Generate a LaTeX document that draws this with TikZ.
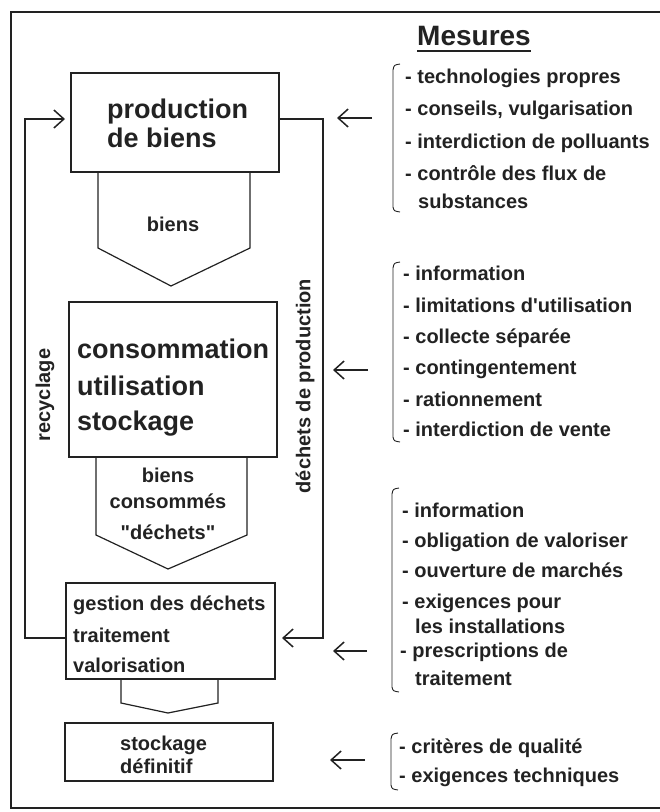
\documentclass[tikz,border=0pt]{standalone}
\usepackage{fontspec}
\setmainfont{Liberation Sans}[Ligatures=TeXOff]
\usetikzlibrary{arrows.meta}
\definecolor{ink}{RGB}{34,34,34}
\tikzset{
  x=1pt, y=-1pt,
  every node/.style={inner sep=0pt, text=ink},
  box/.style={draw=ink, line width=1.2pt, rectangle, inner sep=0pt},
  bigtxt/.style={anchor=base west, font=\fontsize{27}{27}\selectfont\bfseries},
  smalltxt/.style={anchor=base west, font=\fontsize{20}{20}\selectfont\bfseries},
  ctrtxt/.style={anchor=base, font=\fontsize{20}{20}\selectfont\bfseries},
  sidetxt/.style={rotate=90, font=\fontsize{20}{20}\selectfont\bfseries},
  flow/.style={draw=ink, line width=1.3pt},
  arr/.style={flow, -{Straight Barb[length=10pt,width=18pt,line width=1.5pt]}},
  brk/.style={draw=ink, line width=0.9pt},
  chevron/.style={draw=ink, line width=1.2pt, line join=miter},
}
\begin{document}
\begin{tikzpicture}
\useasboundingbox (0,0) rectangle (660,812);

% outer frame (open on the right)
\draw[draw=ink, line width=1.4pt] (660,12) -- (11,12) -- (11,808) -- (660,808);

% ---------- main chain ----------
\node[box, minimum width=208pt, minimum height=99pt] (prod) at (175,122.5) {};
\node[bigtxt] (prodA) at (107,118) {production};
\node[bigtxt] (prodB) at (107,147) {de biens};

\draw[chevron] (98,172) -- (98,248) -- (171,286) -- (250,248) -- (250,172);
\node[ctrtxt] (biensA) at (173,231) {biens};

\node[box, minimum width=208pt, minimum height=155pt] (cons) at (173,379.5) {};
\node[bigtxt] (consA) at (77,358) {consommation};
\node[bigtxt] (consB) at (77,395) {utilisation};
\node[bigtxt] (consC) at (77,430) {stockage};

\draw[chevron] (96,457) -- (96,535) -- (168,569) -- (247,535) -- (247,457);
\node[ctrtxt] (bcA) at (168,482) {biens};
\node[ctrtxt] (bcB) at (168,508) {consommés};
\node[ctrtxt] (bcC) at (168,539) {"déchets"};

\node[box, minimum width=209pt, minimum height=96pt] (gest) at (170.5,631) {};
\node[smalltxt] (gestA) at (73,610) {gestion des déchets};
\node[smalltxt] (gestB) at (73,642) {traitement};
\node[smalltxt] (gestC) at (73,672) {valorisation};

\draw[chevron] (121,679) -- (121,703) -- (168,713) -- (218,703) -- (218,679);

\node[box, minimum width=208pt, minimum height=58pt] (stock) at (169,752) {};
\node[smalltxt] (stockA) at (120,750) {stockage};
\node[smalltxt] (stockB) at (120,773) {définitif};

% ---------- recycling loop ----------
\coordinate (recy) at (25,638);
\coordinate (prodin) at (65,119);
\draw[arr] (gest.west |- recy) -- (recy) -- (recy |- prodin) -- (prodin);
\node[sidetxt] (recyT) at (45,395) {recyclage};

% ---------- production waste ----------
\coordinate (dp) at (323,119);
\coordinate (gestin) at (282,638);
\draw[arr] (prod.east |- dp) -- (dp) -- (dp |- gestin) -- (gestin);
\node[sidetxt] (dpT) at (305,386) {déchets de production};

% ---------- measures ----------
\node[anchor=base west, font=\fontsize{28}{28}\selectfont\bfseries] (mes) at (417,45) {Mesures};
\draw[draw=ink, line width=1.5pt] ([yshift=-6pt]mes.base west) -- ([yshift=-6pt]mes.base east);

\coordinate (a1s) at (372,118); \coordinate (a1e) at (337,118);
\coordinate (a2s) at (368,370); \coordinate (a2e) at (333,370);
\coordinate (a3s) at (367,651); \coordinate (a3e) at (333,651);
\coordinate (a4s) at (365,760); \coordinate (a4e) at (330,760);
\draw[arr] (a1s) -- (a1e);
\draw[arr] (a2s) -- (a2e);
\draw[arr] (a3s) -- (a3e);
\draw[arr] (a4s) -- (a4e);

% brackets
\draw[brk] (400,64) .. controls (394,65) .. (393,70) -- (393,207) .. controls (394,211) .. (400,212);
\draw[brk] (400,262) .. controls (394,263) .. (393,268) -- (393,437) .. controls (394,441) .. (400,442);
\draw[brk] (399,488) .. controls (393,489) .. (392,494) -- (392,687) .. controls (393,691) .. (399,692);
\draw[brk] (398,733) .. controls (392,734) .. (391,739) -- (391,785) .. controls (392,789) .. (398,790);

% group 1
\node[smalltxt] (g1a) at (405,83) {- technologies propres};
\node[smalltxt] (g1b) at (405,115) {- conseils, vulgarisation};
\node[smalltxt] (g1c) at (405,148) {- interdiction de polluants};
\node[smalltxt] (g1d) at (405,180) {- contrôle des flux de};
\node[smalltxt] (g1e) at (418,208) {substances};

% group 2
\node[smalltxt] (g2a) at (403,280) {- information};
\node[smalltxt] (g2b) at (403,312) {- limitations d'utilisation};
\node[smalltxt] (g2c) at (403,343) {- collecte séparée};
\node[smalltxt] (g2d) at (403,374) {- contingentement};
\node[smalltxt] (g2e) at (403,406) {- rationnement};
\node[smalltxt] (g2f) at (403,436) {- interdiction de vente};

% group 3
\node[smalltxt] (g3a) at (402,517) {- information};
\node[smalltxt] (g3b) at (402,547) {- obligation de valoriser};
\node[smalltxt] (g3c) at (402,577) {- ouverture de marchés};
\node[smalltxt] (g3d) at (402,608) {- exigences pour};
\node[smalltxt] (g3e) at (415,633) {les installations};
\node[smalltxt] (g3f) at (400,657) {- prescriptions de};
\node[smalltxt] (g3g) at (415,685) {traitement};

% group 4
\node[smalltxt] (g4a) at (399,753) {- critères de qualité};
\node[smalltxt] (g4b) at (399,782) {- exigences techniques};
\end{tikzpicture}
\end{document}
